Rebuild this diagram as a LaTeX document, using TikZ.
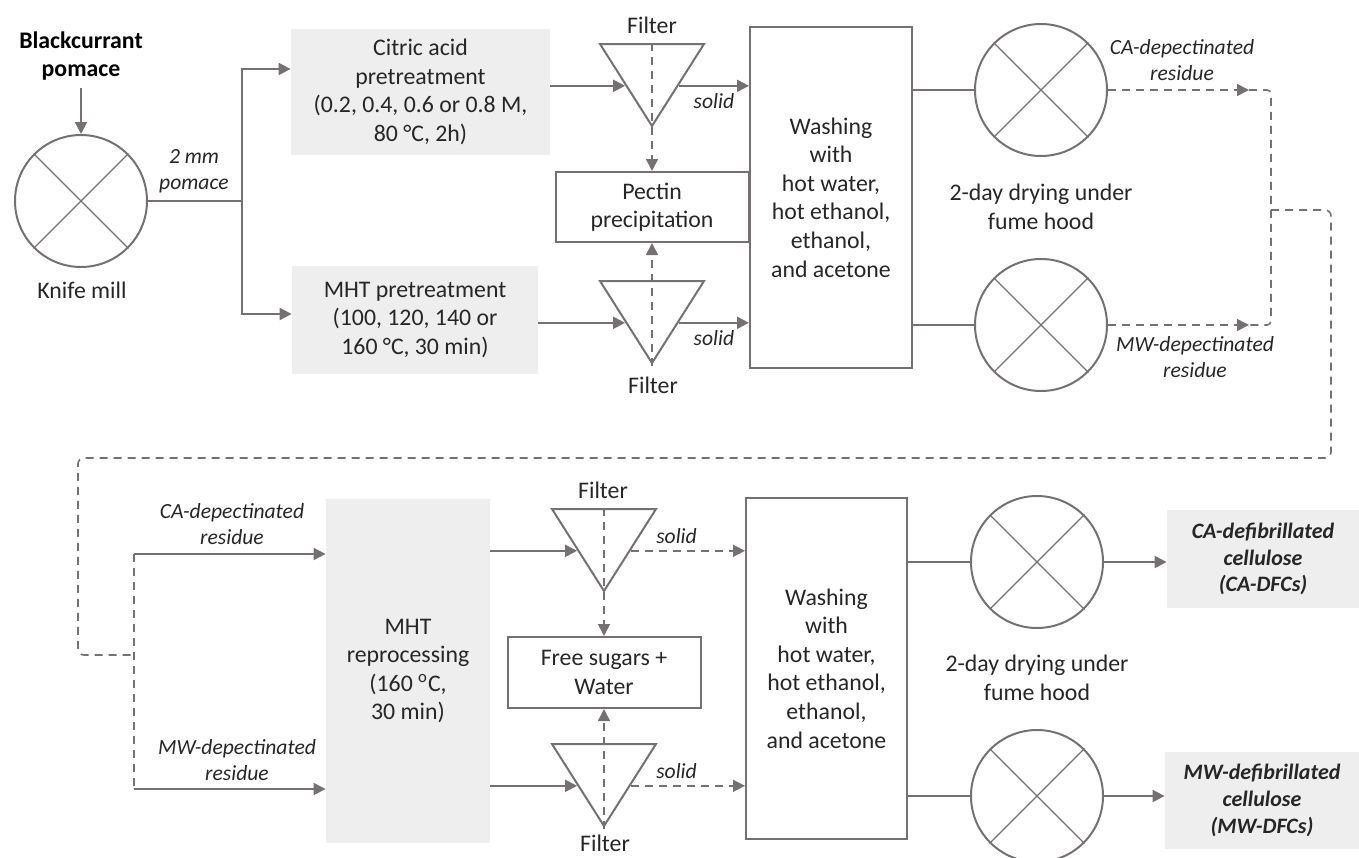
\documentclass[tikz,border=0pt]{standalone}
\usepackage{fontspec}
\setmainfont{Carlito}
\usepackage{tikz}
\usetikzlibrary{arrows.meta,shapes.geometric}
\definecolor{linegray}{HTML}{767171}
\definecolor{boxfill}{HTML}{EEEEEE}
\definecolor{ink}{HTML}{262626}

\begin{document}
\begin{tikzpicture}[x=0.5pt,y=-0.5pt,>={Triangle[length=6pt,width=6pt]},
  every node/.style={font=\fontsize{11.9}{14.3}\selectfont,text=ink,align=center},
  lbl/.style={font=\fontsize{10.8}{13}\selectfont\itshape},
  graybox/.style={fill=boxfill,rectangle,inner sep=0pt},
  stepbox/.style={draw=linegray,line width=1pt,rectangle,inner sep=0pt},
  dryer/.style={draw=linegray,line width=1pt,circle,minimum size=66pt,inner sep=0pt},
  filter/.style={draw=linegray,line width=1pt,isosceles triangle,isosceles triangle stretches,shape border rotate=270,minimum width=52pt,minimum height=41pt,inner sep=0pt},
  flow/.style={draw=linegray,line width=1pt},
  dflow/.style={draw=linegray,line width=0.8pt,dash pattern=on 4pt off 3pt}]
\useasboundingbox (0,0) rectangle (1359,857);
% upper line
\node[font=\fontsize{11.9}{14.3}\selectfont\bfseries,text=black] (bp) at (81,56) {Blackcurrant\\pomace};
\node[dryer] (km) at (81,201) {};
\node (kml) at (82,290) {Knife mill};
\coordinate (sp) at (242,201);
\node[lbl] (mm) at (194,171) {2 mm\\pomace};
\node[graybox,minimum width=129.5pt,minimum height=63pt] (ca) at (420.5,92) {Citric acid\\pretreatment\\(0.2, 0.4, 0.6 or 0.8 M,\\80 °C, 2h)};
\node[graybox,minimum width=123pt,minimum height=54pt] (mht) at (415,320) {MHT pretreatment\\(100, 120, 140 or\\160 °C, 30 min)};
\node[filter,anchor=lower side] (f1) at (652,43) {};
\node (f1l) at (652,25) {Filter};
\node[stepbox,minimum width=96.5pt,minimum height=35pt] (pp) at (652,207) {Pectin\\precipitation};
\node[filter,anchor=lower side] (f2) at (652,280) {};
\node (f2l) at (653,385) {Filter};
\node[stepbox,minimum width=81pt,minimum height=170.5pt] (w1) at (831,197.5) {Washing\\with\\hot water,\\hot ethanol,\\ethanol,\\and acetone};
\node[dryer] (d1) at (1041,90) {};
\node[dryer] (d2) at (1041,325) {};
\node (dl1) at (1041,207) {2-day drying under\\fume hood};
\node[lbl] (r1) at (1182,60) {CA-depectinated\\residue};
\node[lbl] (r2) at (1195,357) {MW-depectinated\\residue};
\coordinate (a1) at (1249,90);
\coordinate (a2) at (1249,325);
\coordinate (jr) at (1271,210);
\coordinate (lr) at (1331,458);
\coordinate (ll) at (78,655);
\coordinate (jl) at (134,655);
\coordinate (b1) at (134,554);
\coordinate (b2) at (134,789);
% lower line
\node[lbl] (r3) at (232,524) {CA-depectinated\\residue};
\node[lbl] (r4) at (237,760) {MW-depectinated\\residue};
\node[graybox,minimum width=82pt,minimum height=172pt] (mr) at (408,671) {MHT\\reprocessing\\(160 \textsuperscript{o}C,\\30 min)};
\node[filter,anchor=lower side] (f3) at (604,508) {};
\node (f3l) at (603,490) {Filter};
\node[stepbox,minimum width=96.5pt,minimum height=35.5pt] (fs) at (604,672.5) {Free sugars +\\Water};
\node[filter,anchor=lower side] (f4) at (604,743) {};
\node (f4l) at (605,843) {Filter};
\node[stepbox,minimum width=80.5pt,minimum height=170.5pt] (w2) at (826.5,668.5) {Washing\\with\\hot water,\\hot ethanol,\\ethanol,\\and acetone};
\node[dryer] (d3) at (1037,562) {};
\node[dryer] (d4) at (1037,796) {};
\node (dl2) at (1037,678) {2-day drying under\\fume hood};
\node[graybox,minimum width=96pt,minimum height=49pt,font=\fontsize{11}{13.4}\selectfont\bfseries\itshape] (o1) at (1263,559) {CA-defibrillated\\cellulose\\(CA-DFCs)};
\node[graybox,minimum width=97pt,minimum height=48.5pt,font=\fontsize{11}{13.4}\selectfont\bfseries\itshape] (o2) at (1262,800.5) {MW-defibrillated\\cellulose\\(MW-DFCs)};
\foreach \n in {km,d1,d2,d3,d4}
  \draw[linegray,line width=0.6pt] (\n.45) -- (\n.225) (\n.135) -- (\n.315);
% connectors
\draw[flow,->] (bp) -- (km);
\draw[flow] (km) -- (sp);
\draw[flow,->] (sp) |- ([yshift=11.5pt]ca.west);
\draw[flow,->] (sp) |- ([yshift=3pt]mht.west);
\draw[flow,->] (f1.right side -| ca.east) -- (f1.right side);
\draw[flow,->] (f1.left side) -- (f1.left side -| w1.west) node[lbl,below,midway] {solid};
\draw[dflow,->] (f1.lower side) -- (pp);
\draw[flow,->] (f2.right side -| mht.east) -- (f2.right side);
\draw[flow,->] (f2.left side) -- (f2.left side -| w1.west) node[lbl,below,midway] {solid};
\draw[dflow,->] (f2.apex) -- (pp);
\draw[flow] (w1.east |- d1) -- (d1);
\draw[flow] (w1.east |- d2) -- (d2);
\draw[dflow,->] (d1) -- (a1);
\draw[dflow,->] (d2) -- (a2);
\draw[dflow,rounded corners=2pt] (a1) -| (jr) |- (a2);
\draw[dflow,rounded corners=3pt] (jr) -| (lr) -| (ll) -- (jl);
\draw[dflow] (b1) -- (b2);
\draw[flow,->] (b1) -- (b1 -| mr.west);
\draw[flow,->] (b2) -- (b2 -| mr.west);
\draw[flow,->] (f3.right side -| mr.east) -- (f3.right side);
\draw[dflow,->] (f3.left side) -- (f3.left side -| w2.west) node[lbl,above,pos=0.4] {solid};
\draw[dflow,->] (f3.lower side) -- (fs);
\draw[flow,->] (f4.right side -| mr.east) -- (f4.right side);
\draw[dflow,->] (f4.left side) -- (f4.left side -| w2.west) node[lbl,above,pos=0.4] {solid};
\draw[dflow,->] (f4.apex) -- (fs);
\draw[flow] (w2.east |- d3) -- (d3);
\draw[flow] (w2.east |- d4) -- (d4);
\draw[flow,->] (d3) -- (d3 -| o1.west);
\draw[flow,->] (d4) -- (d4 -| o2.west);
\end{tikzpicture}
\end{document}
